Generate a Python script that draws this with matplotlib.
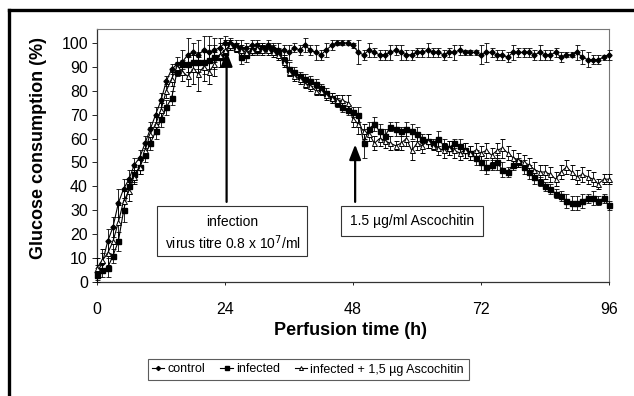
import matplotlib
matplotlib.use("Agg")
import matplotlib.pyplot as plt
from matplotlib.lines import Line2D
from matplotlib.patches import Rectangle

plt.rcParams['font.family'] = ['Liberation Sans', 'DejaVu Sans']

hours = list(range(0, 97))

control = [4, 8, 17, 23, 33, 39, 43, 49, 52, 58,
           64, 70, 76, 84, 89, 91, 92, 95, 96, 95,
           97, 96, 97, 98, 100, 100, 99, 98, 98, 99,
           99, 98, 99, 98, 97, 97, 96, 98, 97, 99,
           97, 96, 95, 97, 99, 100, 100, 100, 99,
           96, 95, 97, 96, 95, 95, 96, 97, 96, 95,
           95, 96, 96, 97, 96, 96, 95, 96, 96, 97,
           96, 96, 96, 95, 96, 96, 95, 95, 94, 96,
           96, 96, 96, 95, 96, 95, 95, 96, 94, 95,
           95, 96, 94, 93, 93, 93, 94, 95]
control_err = [3, 4, 5, 4, 6, 4, 4, 3, 3, 3,
               3, 3, 3, 2, 2, 3, 5, 7, 4, 6,
               6, 7, 5, 4, 3, 2, 2, 3, 2, 2,
               2, 2, 2, 2, 3, 2, 3, 2, 2, 3,
               2, 3, 2, 3, 2, 1, 1, 1, 1, 5,
               2, 3, 2, 2, 2, 3, 2, 3, 2, 2,
               2, 2, 3, 2, 2, 2, 2, 3, 2, 1,
               1, 1, 4, 4, 2, 2, 2, 2, 3, 2,
               2, 2, 2, 3, 2, 2, 2, 2, 1, 1,
               3, 3, 3, 2, 2, 1, 2]

infected = [3, 5, 6, 11, 17, 30, 40, 45, 48, 53,
            58, 63, 68, 73, 77, 88, 91, 91, 92, 92,
            92, 93, 94, 94, 96, 99, 98, 94, 95, 97,
            97, 98, 98, 97, 96, 93, 89, 88, 86, 85,
            84, 83, 81, 79, 77, 75, 73, 72, 71, 70,
            58, 64, 66, 63, 61, 65, 64, 63, 64, 63,
            62, 60, 59, 58, 60, 57, 56, 58, 57, 55,
            54, 52, 50, 48, 49, 50, 47, 46, 49, 50,
            48, 46, 44, 42, 40, 39, 37, 36, 34, 33,
            33, 34, 35, 35, 34, 35, 32]
infected_err = [3, 3, 4, 3, 4, 5, 3, 3, 3, 3,
                3, 3, 3, 3, 3, 2, 2, 3, 3, 4,
                5, 6, 5, 4, 3, 2, 2, 3, 3, 2,
                2, 2, 2, 2, 2, 2, 3, 2, 2, 2,
                2, 2, 2, 2, 2, 2, 2, 2, 2, 3,
                6, 3, 3, 3, 3, 2, 3, 2, 3, 3,
                3, 2, 3, 2, 3, 3, 3, 2, 3, 3,
                3, 3, 3, 3, 2, 3, 3, 2, 2, 2,
                3, 3, 3, 2, 2, 2, 2, 2, 3, 3,
                3, 3, 2, 3, 2, 2, 2]

asco = [6, 9, 12, 17, 25, 34, 38, 44, 48, 55,
        62, 66, 72, 80, 85, 90, 88, 86, 89, 87,
        90, 88, 91, 95, 97, 99, 98, 97, 96, 97,
        98, 97, 97, 96, 95, 92, 88, 86, 85, 83,
        82, 80, 80, 78, 77, 76, 76, 75, 68, 66,
        63, 62, 58, 60, 59, 58, 57, 58, 60, 55,
        58, 57, 59, 57, 56, 55, 56, 55, 54, 55,
        54, 55, 54, 55, 53, 55, 56, 54, 52, 51,
        50, 49, 47, 46, 46, 45, 43, 46, 48, 46,
        44, 45, 44, 43, 41, 43, 43]
asco_err = [4, 5, 5, 6, 7, 4, 4, 3, 3, 3,
            3, 3, 3, 3, 3, 2, 4, 4, 6, 7,
            6, 5, 5, 5, 4, 2, 2, 2, 2, 2,
            2, 2, 2, 2, 2, 2, 2, 2, 2, 2,
            2, 2, 2, 2, 2, 2, 2, 3, 3, 4,
            3, 3, 3, 3, 3, 3, 2, 3, 3, 4,
            3, 3, 3, 2, 3, 3, 3, 3, 3, 3,
            3, 3, 3, 3, 3, 3, 4, 3, 3, 3,
            3, 3, 3, 3, 3, 3, 3, 3, 3, 3,
            3, 3, 3, 3, 2, 2, 2]

series_labels = ['control', 'infected', 'infected + 1,5 \u00b5g Ascochitin']
x_ticks = [0, 24, 48, 72, 96]
y_ticks = [0, 10, 20, 30, 40, 50, 60, 70, 80, 90, 100]

W, H = 634, 396
fig = plt.figure(figsize=(W / 100, H / 100), dpi=100)
fig.patch.set_facecolor('white')

# outer frame (left and top only, cropped image)
fig.add_artist(Line2D([9 / W, 9 / W], [0, 1 - 10 / H], color='black', lw=2.4,
                      transform=fig.transFigure, solid_capstyle='projecting'))
fig.add_artist(Line2D([9 / W, 1], [1 - 10 / H, 1 - 10 / H], color='black', lw=2.4,
                      transform=fig.transFigure, solid_capstyle='projecting'))

ax = fig.add_axes([97 / W, 1 - 282 / H, 512 / W, 253 / H])

styles = [
    (control, control_err, dict(marker='D', ms=2.6, mfc='black', mec='black')),
    (infected, infected_err, dict(marker='s', ms=3.6, mfc='black', mec='black')),
    (asco, asco_err, dict(marker='^', ms=3.6, mfc='white', mec='black', mew=0.7)),
]
handles = []
for (vals, errs, mk), lab in zip(styles, series_labels):
    ax.errorbar(hours, vals, yerr=errs, color='black', lw=0.8, elinewidth=0.6,
                capsize=1.8, capthick=0.6, clip_on=False, zorder=3, **mk)
    handles.append(Line2D([], [], color='black', lw=0.8, **mk))

ax.set_xlim(0, 96)
ax.set_ylim(0, 105.8)
ax.set_xticks(x_ticks)
ax.set_yticks(y_ticks)
ax.tick_params(axis='x', direction='out', length=2.5, width=0.6, pad=12, labelsize=11.5)
ax.tick_params(axis='y', direction='out', length=3.5, width=0.6, pad=3, labelsize=11.5)
for s in ['left', 'bottom']:
    ax.spines[s].set_color('#333333')
    ax.spines[s].set_linewidth(0.9)
for s in ['top', 'right']:
    ax.spines[s].set_color('#777777')
    ax.spines[s].set_linewidth(0.8)

ax.set_ylabel('Glucose consumption (%)', fontsize=13, fontweight='bold')
ax.set_xlabel('Perfusion time (h)', fontsize=13, fontweight='bold')
ax.yaxis.set_label_coords(-0.098, 0.53)
ax.xaxis.set_label_coords(0.496, -0.158)

# annotation boxes and arrows
ax.add_patch(Rectangle((11.3, 10.9), 28.1, 20.8, fill=True, fc='white',
                       ec='#333333', lw=0.8, zorder=4))
ax.text(25.4, 25.0, 'infection', ha='center', va='center', fontsize=10, zorder=5)
ax.text(25.4, 16.3, 'virus titre 0.8 x 10$^{7}$/ml', ha='center', va='center',
        fontsize=10, zorder=5)
ax.add_patch(Rectangle((45.8, 19.4), 26.6, 12.2, fill=True, fc='white',
                       ec='#333333', lw=0.8, zorder=4))
ax.text(59.1, 25.5, '1.5 \u00b5g/ml Ascochitin', ha='center', va='center',
        fontsize=10, zorder=5)

arrow_kw = dict(arrowstyle='-|>,head_length=0.9,head_width=0.35', color='black',
                lw=1.6, shrinkA=0, shrinkB=0)
ax.annotate('', xy=(24.3, 96.5), xytext=(24.3, 33.5), arrowprops=arrow_kw, zorder=6)
ax.annotate('', xy=(48.4, 57.5), xytext=(48.4, 33.5), arrowprops=arrow_kw, zorder=6)

leg = fig.legend(handles, series_labels, loc='center',
                 bbox_to_anchor=(308 / W, 1 - 369.5 / H), ncol=3, fontsize=9,
                 handlelength=1.0, handletextpad=0.25, columnspacing=1.2,
                 frameon=True, fancybox=False, borderpad=0.35, borderaxespad=0,
                 markerscale=0.8)
leg.get_frame().set_edgecolor('#333333')
leg.get_frame().set_linewidth(0.8)

fig.savefig('out.png', dpi=100, facecolor='white')
